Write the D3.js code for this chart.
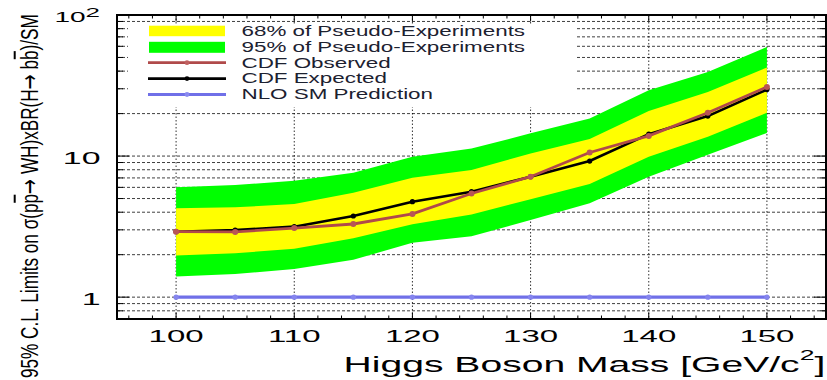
<!DOCTYPE html>
<html>
<head>
<meta charset="utf-8">
<script src="https://cdn.jsdelivr.net/npm/d3@7"></script>
<style>
  html, body { margin: 0; padding: 0; background: #fff; }
  svg { display: block; }
  text { font-family: "Liberation Sans", Arial, Helvetica, sans-serif; }
</style>
</head>
<body>
<svg id="chart" width="827" height="380"></svg>
<script>
// Higgs mass points (GeV/c^2)
const masses = [100, 105, 110, 115, 120, 125, 130, 135, 140, 145, 150];

// 95% C.L. limits on sigma x BR, in units of the SM prediction
const observed   = [2.91, 2.90, 3.09, 3.30, 3.89, 5.43, 7.14, 10.6, 13.9, 20.3, 30.9];
const expected   = [2.91, 2.99, 3.16, 3.76, 4.75, 5.59, 7.14, 9.22, 14.3, 19.2, 29.6];

// pseudo-experiment bands around the expected limit
const band68Up   = [4.27, 4.33, 4.57, 5.50, 7.02, 7.96, 10.45, 13.2, 20.9, 28.5, 42.4];
const band68Down = [1.97, 2.05, 2.20, 2.62, 3.29, 3.85, 4.94, 6.34, 9.89, 13.7, 20.3];
const band95Up   = [6.00, 6.23, 6.69, 7.62, 9.90, 11.3, 14.5, 18.5, 29.3, 39.5, 59.4];
const band95Down = [1.40, 1.46, 1.58, 1.84, 2.43, 2.70, 3.52, 4.63, 7.14, 10.2, 14.6];

// NLO SM prediction (ratio to itself)
const smPrediction = [1, 1, 1, 1, 1, 1, 1, 1, 1, 1, 1];

// axis labels
const xTickLabels = ["100", "110", "120", "130", "140", "150"];
const legendLabels = [
  "68% of Pseudo-Experiments",
  "95% of Pseudo-Experiments",
  "CDF Observed",
  "CDF Expected",
  "NLO SM Prediction"
];
const xTitle = "Higgs Boson Mass [GeV/c";
const yTitle = "95% C.L. Limits on \u03c3(pp\u2192 WH)xBR(H\u2192 bb)/SM";

const COL = {
  yellow: "#ffff00",
  green: "#00ff00",
  obs: "#b04a4a",
  exp: "#000000",
  sm: "#7070e8",
  text: "#1c2130"
};

const svg = d3.select("#chart");
const frame = { left: 117, right: 826, top: 15, bottom: 319 };

const x = d3.scaleLinear().domain([95, 155]).range([frame.left, frame.right]);
const y = d3.scaleLog().domain([0.7, 100]).range([frame.bottom, frame.top]);

// ---- grid ----
const grid = svg.append("g");
const hVals = y.ticks().filter(v => v > 0.7 + 1e-9 && v < 100 - 1e-9);
grid.selectAll("line.h").data(hVals).join("line")
  .attr("x1", frame.left).attr("x2", frame.right)
  .attr("y1", d => y(d)).attr("y2", d => y(d))
  .attr("stroke", "#000").attr("stroke-width", 1)
  .attr("stroke-dasharray", "3,2").attr("opacity", 0.75);
const vVals = x.ticks(6);
grid.selectAll("line.v").data(vVals).join("line")
  .attr("x1", d => x(d)).attr("x2", d => x(d))
  .attr("y1", frame.top).attr("y2", frame.bottom)
  .attr("stroke", "#000").attr("stroke-width", 1)
  .attr("stroke-dasharray", "1.5,2").attr("opacity", 0.8);

// ---- bands ----
const idx = d3.range(masses.length);
const area = (lo, hi) => d3.area()
  .x(i => x(masses[i])).y0(i => y(lo[i])).y1(i => y(hi[i]));
svg.append("path").attr("d", area(band95Down, band95Up)(idx)).attr("fill", COL.green);
svg.append("path").attr("d", area(band68Down, band68Up)(idx)).attr("fill", COL.yellow);

// ---- curves ----
function curve(vals, color, width, r, mcol) {
  const line = d3.line().x(i => x(masses[i])).y(i => y(vals[i]));
  svg.append("path").attr("d", line(idx)).attr("fill", "none")
    .attr("stroke", color).attr("stroke-width", width).attr("stroke-linejoin", "round");
  svg.append("g").selectAll("circle").data(idx).join("circle")
    .attr("cx", i => x(masses[i])).attr("cy", i => y(vals[i]))
    .attr("r", r).attr("fill", mcol || color);
}
curve(smPrediction, COL.sm, 3.2, 2.6, "#8585ee");
curve(expected, COL.exp, 2.6, 2.6);
curve(observed, COL.obs, 2.8, 3.0, "#b85656");

// ---- legend ----
svg.append("rect").attr("x", 128).attr("y", 24).attr("width", 449).attr("height", 83).attr("fill", "#fff");
const lg = svg.append("g");
const rowBase = d3.scaleLinear().domain([0, 4]).range([35.7, 99.3]);
lg.append("rect").attr("x", 149).attr("y", 25.7).attr("width", 76).attr("height", 10.5).attr("fill", COL.yellow);
lg.append("rect").attr("x", 149).attr("y", 41.8).attr("width", 76).attr("height", 11).attr("fill", COL.green);
[[COL.obs, 2.8, "#c06060"], [COL.exp, 2.6, "#000"], [COL.sm, 3.2, "#8a8af0"]].forEach((c, k) => {
  const yy = rowBase(k + 2) - 4.8;
  lg.append("line").attr("x1", 148).attr("x2", 226).attr("y1", yy).attr("y2", yy)
    .attr("stroke", c[0]).attr("stroke-width", c[1]);
  lg.append("circle").attr("cx", 187).attr("cy", yy).attr("r", 2.4).attr("fill", c[2]);
});
legendLabels.forEach((t, k) => {
  lg.append("g").attr("transform", `translate(241.5,${rowBase(k)}) scale(1.6,1)`)
    .append("text").attr("font-size", 14).attr("fill", COL.text).text(t);
});

// ---- frame & ticks ----
const axes = svg.append("g").attr("stroke", "#000");
axes.append("rect").attr("x", frame.left).attr("y", frame.top)
  .attr("width", frame.right - frame.left).attr("height", frame.bottom - frame.top)
  .attr("fill", "none").attr("stroke-width", 2);
const xMinor = d3.range(96, 155, 2);
xMinor.forEach(v => {
  const major = v % 10 === 0;
  const len = major ? 6.5 : 3.5;
  axes.append("line").attr("x1", x(v)).attr("x2", x(v)).attr("y1", frame.bottom).attr("y2", frame.bottom - len).attr("stroke-width", 1);
  axes.append("line").attr("x1", x(v)).attr("x2", x(v)).attr("y1", frame.top).attr("y2", frame.top + len).attr("stroke-width", 1);
});
y.ticks().forEach(v => {
  const major = Math.abs(Math.log10(v) - Math.round(Math.log10(v))) < 1e-9;
  const len = major ? 12 : 6;
  axes.append("line").attr("x1", frame.left).attr("x2", frame.left + len).attr("y1", y(v)).attr("y2", y(v)).attr("stroke-width", 1);
  axes.append("line").attr("x1", frame.right).attr("x2", frame.right - len).attr("y1", y(v)).attr("y2", y(v)).attr("stroke-width", 1);
});

// ---- tick labels ----
vVals.forEach((v, k) => {
  svg.append("g").attr("transform", `translate(${x(v)},342) scale(2.0,1)`)
    .append("text").attr("font-size", 16.5).attr("text-anchor", "middle").attr("fill", "#000")
    .text(xTickLabels[k]);
});
// y labels: 1, 10, 10^2
[[1, "1"], [10, "10"]].forEach(([v, t]) => {
  svg.append("g").attr("transform", `translate(100.5,${y(v) + 7.6}) scale(2.05,1)`)
    .append("text").attr("font-size", 16.5).attr("text-anchor", "end").attr("fill", "#000").text(t);
});
{
  const t = svg.append("g").attr("transform", `translate(100,${y(100) + 6.8}) scale(2.0,1)`)
    .append("text").attr("text-anchor", "end").attr("fill", "#000");
  t.append("tspan").attr("font-size", 14).text("10");
  t.append("tspan").attr("font-size", 13).attr("dy", -5).text("2");
}

// ---- axis titles ----
{
  const g = svg.append("g");
  const t = g.append("text").attr("font-size", 22).attr("fill", "#000");
  t.append("tspan").text(xTitle);
  t.append("tspan").attr("font-size", 15).attr("dy", -11.7).text("2");
  t.append("tspan").attr("dy", 11.7).text("]");
  const len = t.node().getComputedTextLength();
  const k = 482 / len;
  g.attr("transform", `translate(343.6,371.7) scale(${k},1)`);
}
{
  const fs = 23.5;
  const g = svg.append("g");
  const t = g.append("text").attr("font-size", fs).attr("fill", "#000");
  // arrows drawn with a face that has a full-size arrow glyph
  yTitle.split(/(\u2192)/).forEach(part => {
    const s = t.append("tspan").text(part);
    if (part === "\u2192") s.attr("font-family", "DejaVu Sans").attr("font-size", fs * 1.05);
  });
  const len = t.node().getComputedTextLength();
  const k = 364 / len;
  g.attr("transform", `translate(37.5,378) rotate(-90) scale(${k},1)`);
  // overbars on the anti-proton and anti-b
  [yTitle.indexOf("pp") + 1, yTitle.indexOf("bb") + 1].forEach(ci => {
    const e = t.node().getExtentOfChar(ci);
    g.append("line").attr("x1", e.x + 1).attr("x2", e.x + e.width - 1)
      .attr("y1", -fs * 0.97).attr("y2", -fs * 0.97)
      .attr("stroke", "#000").attr("stroke-width", 2);
  });
}
</script>
</body>
</html>
